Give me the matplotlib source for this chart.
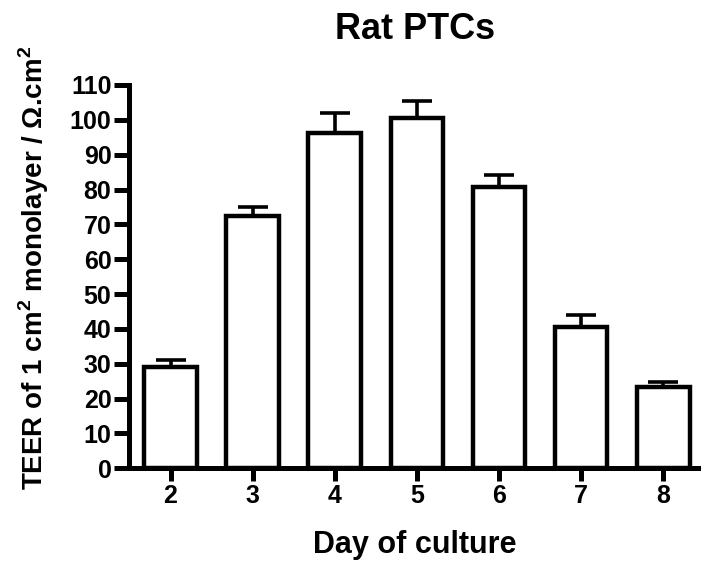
import matplotlib
matplotlib.use("Agg")
import matplotlib.pyplot as plt
import numpy as np

days = ["2", "3", "4", "5", "6", "7", "8"]
teer = [29.0, 72.5, 96.3, 100.5, 80.6, 40.5, 23.2]
sem = [2.0, 2.6, 5.6, 4.8, 3.6, 3.5, 1.7]
yticks = list(range(0, 111, 10))

plt.rcParams['font.family'] = ['Liberation Sans', 'DejaVu Sans']
plt.rcParams['font.weight'] = 'bold'
plt.rcParams['mathtext.fontset'] = 'custom'
plt.rcParams['mathtext.rm'] = 'Liberation Sans'
plt.rcParams['mathtext.bf'] = 'Liberation Sans:bold'

fig = plt.figure(figsize=(7.01, 5.62), dpi=100)
ax = fig.add_axes([0.1847, 0.1667, 0.8153, 0.6821])

x = np.arange(len(days))
ax.bar(x, teer, width=0.64, facecolor='white', edgecolor='black', linewidth=3.2, zorder=2)
ax.errorbar(x, teer, yerr=[np.zeros(len(sem)), sem], fmt='none', ecolor='black',
            elinewidth=2.6, capsize=11, capthick=2.6, zorder=1)

ax.set_xlim(-0.5, 6.46)
ax.set_ylim(0, 110)
ax.set_xticks(x)
ax.set_xticklabels(days)
ax.set_yticks(yticks)
for s in ['top', 'right']:
    ax.spines[s].set_visible(False)
for s in ['left', 'bottom']:
    ax.spines[s].set_linewidth(3.6)
ax.spines['bottom'].set_zorder(3)
ax.tick_params(axis='both', width=3.6, labelsize=18, pad=2)
ax.tick_params(axis='y', length=11)
ax.tick_params(axis='x', length=9)
for lab in ax.get_xticklabels() + ax.get_yticklabels():
    lab.set_fontweight('bold')

ax.set_title("Rat PTCs", fontsize=26, fontweight='bold', pad=33)
ax.set_xlabel("Day of culture", fontsize=22, fontweight='bold', labelpad=16)
ax.set_ylabel("TEER of 1 cm$^\\mathbf{2}$ monolayer / \u03a9.cm$^\\mathbf{2}$",
              fontsize=20, fontweight='bold')
ax.yaxis.set_label_coords(-0.1375, 0.5226)

fig.savefig("out.png", dpi=100)
